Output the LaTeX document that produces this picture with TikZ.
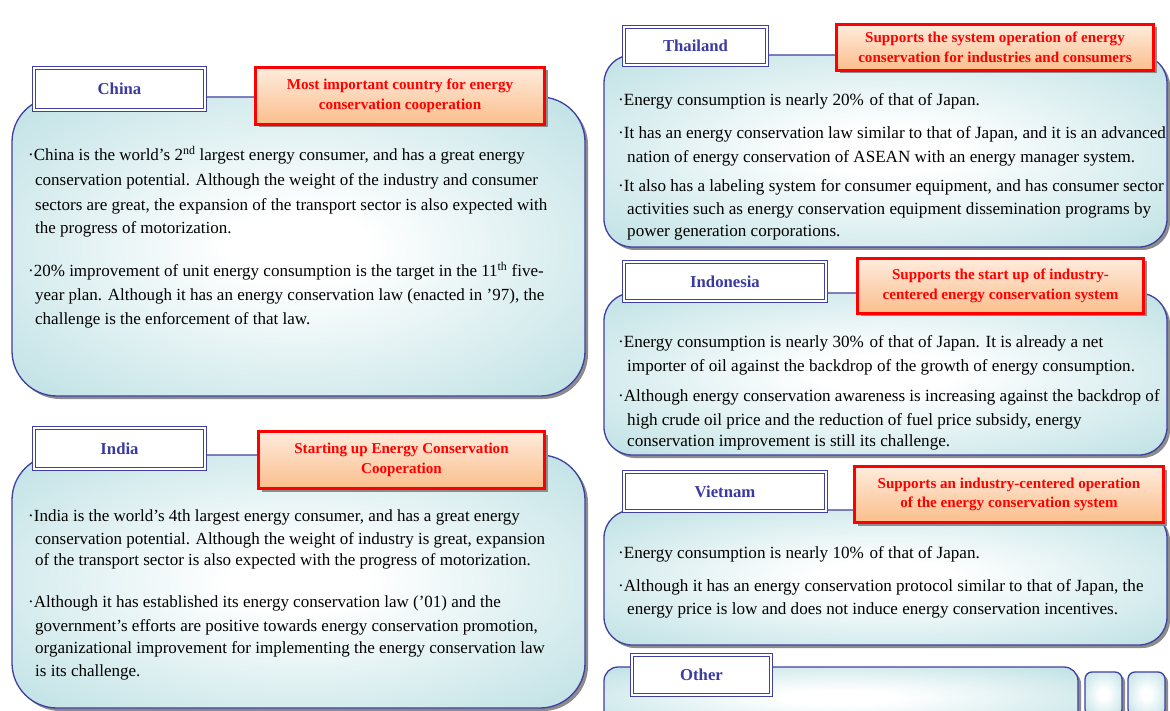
\documentclass[tikz,border=0pt]{standalone}
\usepackage{fontspec}
\setmainfont{Liberation Serif}
\usetikzlibrary{shadows}
\definecolor{panelc}{RGB}{176,218,222}
\definecolor{edgeb}{RGB}{64,64,160}
\definecolor{titleb}{RGB}{58,58,160}
\definecolor{peach}{RGB}{251,190,140}
\definecolor{shade}{RGB}{140,140,140}
\pgfdeclareradialshading{panelshade}{\pgfpoint{0bp}{0bp}}{color(0bp)=(white); color(6bp)=(white); color(42bp)=(panelc); color(72bp)=(panelc)}
\tikzset{
 panel/.style={draw=edgeb, line width=1.3pt, shading=panelshade,
   drop shadow={shadow xshift=3pt, shadow yshift=-3pt, fill=shade, opacity=1}},
 titlebox/.style={draw=edgeb, double=white, double distance=1.6pt, line width=1.3pt,
   fill=white, text=titleb, font=\bfseries\fontsize{16.7}{18}\selectfont, inner sep=0pt},
 redbox/.style={draw=red, line width=3pt, top color=peach!30, middle color=white,
   bottom color=peach, text=red, align=center,
   font=\bfseries\fontsize{15.1}{19.5}\selectfont, inner sep=0pt,
   drop shadow={shadow xshift=3pt, shadow yshift=-3pt, fill=shade, opacity=1}},
 bigtxt/.style={anchor=base west, inner sep=0pt, font=\fontsize{17}{20}\selectfont},
 smtxt/.style={anchor=base west, inner sep=0pt, font=\fontsize{17.1}{20}\selectfont},
}
\begin{document}
\begin{tikzpicture}[x=1pt,y=-1pt]
\useasboundingbox[fill=white] (0,0) rectangle (1170,711);

% ---------- panels ----------
\path[panel, rounded corners=45pt] (12,97) rectangle (585,396);
\path[panel, rounded corners=45pt] (12,455) rectangle (585,708);
\path[panel, rounded corners=28pt] (604,55) rectangle (1167,247);
\path[panel, rounded corners=28pt] (604,293) rectangle (1167,455);
\path[panel, rounded corners=28pt] (604,510) rectangle (1167,645);
\path[panel, rounded corners=14pt] (604,667) rectangle (1078,728);
\path[panel, rounded corners=7pt] (1085,672) rectangle (1122,716);
\path[panel, rounded corners=7pt] (1128,672) rectangle (1165,716);

% ---------- title boxes ----------
\node[titlebox, minimum width=171pt, minimum height=42pt] (tchina) at (119.5,89) {China};
\node[titlebox, minimum width=171pt, minimum height=41pt] (tindia) at (119.5,448.5) {India};
\node[titlebox, minimum width=143pt, minimum height=38pt] (tthai) at (695.5,46) {Thailand};
\node[titlebox, minimum width=202pt, minimum height=39pt] (tindo) at (725,281.5) {Indonesia};
\node[titlebox, minimum width=202pt, minimum height=39pt] (tviet) at (725,491.5) {Vietnam};
\node[titlebox, minimum width=139pt, minimum height=40pt] (tother) at (701.5,675) {Other};

% ---------- red label boxes ----------
\node[redbox, minimum width=289pt, minimum height=57pt] (rchina) at (400,96)
  {Most important country for energy\\conservation cooperation};
\node[redbox, minimum width=286pt, minimum height=57pt] (rindia) at (401.5,460)
  {Starting up Energy Conservation\\Cooperation};
\node[redbox, minimum width=317pt, minimum height=46pt] (rthai) at (995,47.5)
  {Supports the system operation of energy\\conservation for industries and consumers};
\node[redbox, minimum width=286pt, minimum height=55pt] (rindo) at (1000.5,286)
  {Supports the start up of industry-\\centered energy conservation system};
\node[redbox, minimum width=309pt, minimum height=56pt] (rviet) at (1009,494.5)
  {Supports an industry-centered operation\\of the energy conservation system};

% ---------- China text ----------
\node[bigtxt] (c1) at (28,161) {\textperiodcentered China is the world’s 2\textsuperscript{nd} largest energy consumer, and has a great energy};
\node[bigtxt] (c2) at (35,186) {conservation potential. Although the weight of the industry and consumer};
\node[bigtxt] (c3) at (35,211) {sectors are great, the expansion of the transport sector is also expected with};
\node[bigtxt] (c4) at (35,234) {the progress of motorization.};
\node[bigtxt] (c5) at (28,277) {\textperiodcentered 20\% improvement of unit energy consumption is the target in the 11\textsuperscript{th} five-};
\node[bigtxt] (c6) at (35,301) {year plan. Although it has an energy conservation law (enacted in ’97), the};
\node[bigtxt] (c7) at (35,324) {challenge is the enforcement of that law.};

% ---------- India text ----------
\node[bigtxt] (i1) at (28,521) {\textperiodcentered India is the world’s 4th largest energy consumer, and has a great energy};
\node[bigtxt] (i2) at (35,544) {conservation potential. Although the weight of industry is great, expansion};
\node[bigtxt] (i3) at (35,565) {of the transport sector is also expected with the progress of motorization.};
\node[bigtxt] (i4) at (28,607) {\textperiodcentered Although it has established its energy conservation law (’01) and the};
\node[bigtxt] (i5) at (35,631) {government’s efforts are positive towards energy conservation promotion,};
\node[bigtxt] (i6) at (35,653) {organizational improvement for implementing the energy conservation law};
\node[bigtxt] (i7) at (35,676) {is its challenge.};

% ---------- Thailand text ----------
\node[smtxt] (th1) at (618,106) {\textperiodcentered Energy consumption is nearly 20\%\hspace{1.5pt} of that of Japan.};
\node[smtxt] (th2) at (618,139) {\textperiodcentered It has an energy conservation law similar to that of Japan, and it is an advanced};
\node[smtxt] (th3) at (627,163) {nation of energy conservation of ASEAN with an energy manager system.};
\node[smtxt] (th4) at (618,192) {\textperiodcentered It also has a labeling system for consumer equipment, and has consumer sector};
\node[smtxt] (th5) at (627,215) {activities such as energy conservation equipment dissemination programs by};
\node[smtxt] (th6) at (627,237) {power generation corporations.};

% ---------- Indonesia text ----------
\node[smtxt] (in1) at (618,348) {\textperiodcentered Energy consumption is nearly 30\%\hspace{1.5pt} of that of Japan. It is already a net};
\node[smtxt] (in2) at (627,371) {importer of oil against the backdrop of the growth of energy consumption.};
\node[smtxt] (in3) at (618,401) {\textperiodcentered Although energy conservation awareness is increasing against the backdrop of};
\node[smtxt] (in4) at (627,425) {high crude oil price and the reduction of fuel price subsidy, energy};
\node[smtxt] (in5) at (627,446) {conservation improvement is still its challenge.};

% ---------- Vietnam text ----------
\node[smtxt] (v1) at (618,558) {\textperiodcentered Energy consumption is nearly 10\%\hspace{1.5pt} of that of Japan.};
\node[smtxt] (v2) at (618,591) {\textperiodcentered Although it has an energy conservation protocol similar to that of Japan, the};
\node[smtxt] (v3) at (627,614) {energy price is low and does not induce energy conservation incentives.};
\end{tikzpicture}
\end{document}
